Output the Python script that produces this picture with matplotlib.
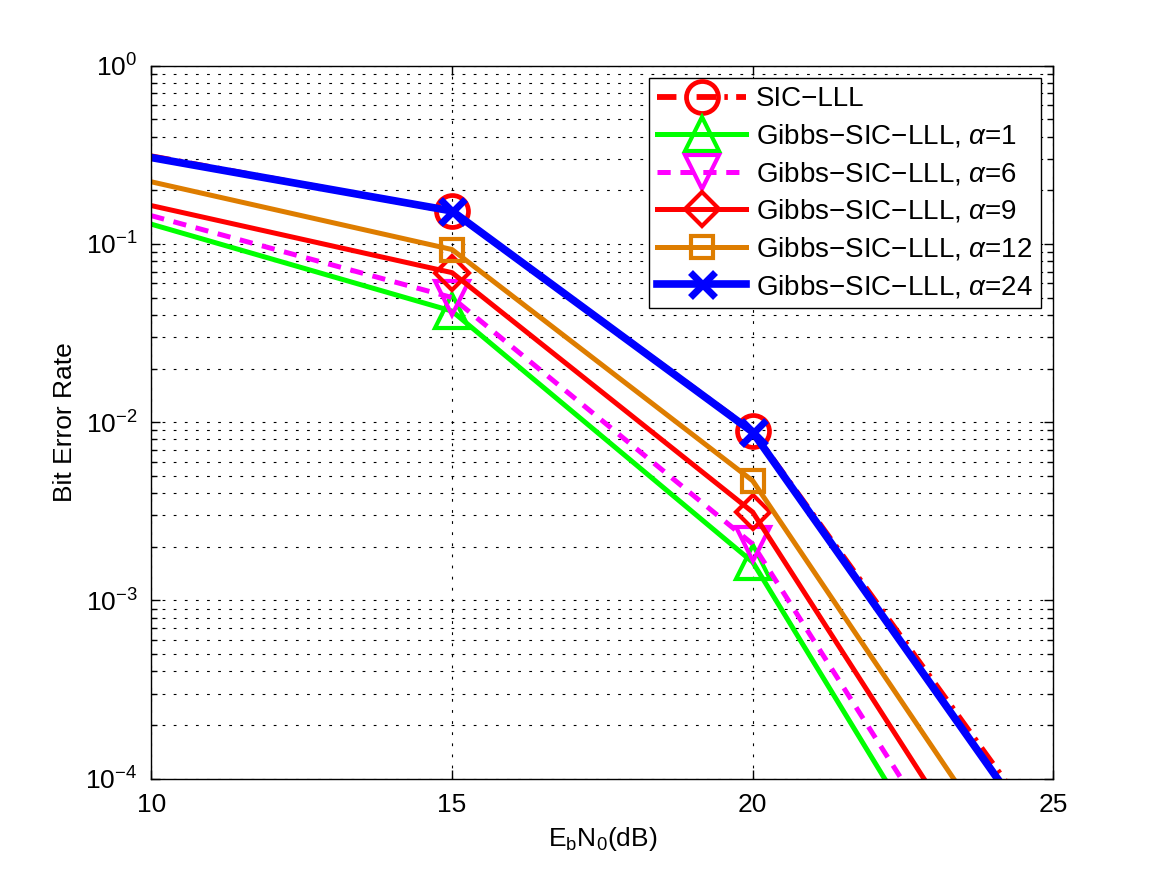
import matplotlib

matplotlib.use("Agg")
import matplotlib.pyplot as plt
from matplotlib.ticker import LogLocator, NullFormatter

plt.rcParams["font.family"] = ["Liberation Sans", "DejaVu Sans"]
plt.rcParams["mathtext.fontset"] = "custom"
plt.rcParams["mathtext.rm"] = "Liberation Sans"
plt.rcParams["mathtext.it"] = "Liberation Sans:italic"
plt.rcParams["mathtext.default"] = "regular"
plt.rcParams["lines.scale_dashes"] = False
plt.rcParams["axes.unicode_minus"] = True

# Eb/N0 sample points (dB)
snr_db = [10, 15, 20, 25]

# bit error rates
ber_sic_lll = [0.31, 0.152, 0.0089, 4.1e-5]
ber_alpha_1 = [0.129, 0.042, 0.00164, 2.8e-6]
ber_alpha_6 = [0.144, 0.050, 0.00207, 4.5e-6]
ber_alpha_9 = [0.164, 0.069, 0.00313, 7.4e-6]
ber_alpha_12 = [0.223, 0.093, 0.00469, 1.48e-5]
ber_alpha_24 = [0.305, 0.153, 0.0088, 3.6e-5]

labels = [
    "SIC−LLL",
    r"Gibbs−SIC−LLL, $\mathit{\alpha}$=1",
    r"Gibbs−SIC−LLL, $\mathit{\alpha}$=6",
    r"Gibbs−SIC−LLL, $\mathit{\alpha}$=9",
    r"Gibbs−SIC−LLL, $\mathit{\alpha}$=12",
    r"Gibbs−SIC−LLL, $\mathit{\alpha}$=24",
]

FS = 19
ORANGE = (0.87, 0.49, 0.0)

fig = plt.figure(figsize=(11.64, 8.75), dpi=100)
ax = fig.add_axes([0.13, 0.11, 0.775, 0.815])

marks = [1, 2]
ax.plot(snr_db, ber_sic_lll, color="red", lw=4.2, dashes=(14, 6, 2.5, 6),
        marker="o", ms=23, mew=3.4, mfc="none", markevery=marks, label=labels[0])
ax.plot(snr_db, ber_alpha_1, color=(0, 1, 0), lw=3.6, marker="^", ms=24, mew=3,
        mfc="none", markevery=marks, label=labels[1])
ax.plot(snr_db, ber_alpha_6, color=(1, 0, 1), lw=3.6, dashes=(9.5, 7),
        marker="v", ms=24, mew=3, mfc="none", markevery=marks, label=labels[2])
ax.plot(snr_db, ber_alpha_9, color="red", lw=3.6, marker="D", ms=17, mew=3,
        mfc="none", markevery=marks, label=labels[3])
ax.plot(snr_db, ber_alpha_12, color=ORANGE, lw=3.6, marker="s", ms=16, mew=3,
        mfc="none", markevery=marks, label=labels[4])
ax.plot(snr_db, ber_alpha_24, color="blue", lw=5.5, marker="x", ms=18, mew=5,
        markevery=marks, label=labels[5])

ax.set_yscale("log")
ax.set_xlim(10, 25)
ax.set_ylim(1e-4, 1)
ax.set_xticks([10, 15, 20, 25])
ax.yaxis.set_major_locator(LogLocator(base=10, numticks=10))
ax.yaxis.set_minor_locator(LogLocator(base=10, subs=range(2, 10), numticks=50))
ax.yaxis.set_minor_formatter(NullFormatter())

grid_style = dict(color="black", lw=0.8, linestyle=(0, (2, 6)))
ax.grid(True, which="major", **grid_style)
ax.grid(True, which="minor", axis="y", **grid_style)

ax.tick_params(which="both", direction="in", top=True, right=True, labelsize=FS,
               width=1.0, colors="black")
ax.tick_params(which="major", length=6.5, pad=10)
ax.tick_params(which="minor", length=4.3)
for spine in ax.spines.values():
    spine.set_linewidth(1.0)

ax.set_xlabel(r"$E_bN_0$(dB)", fontsize=FS, labelpad=6)
ax.set_ylabel("Bit Error Rate", fontsize=FS, labelpad=6)

leg = ax.legend(loc="upper right", bbox_to_anchor=(1041 / 1164, 1 - 78 / 875),
                bbox_transform=fig.transFigure, borderaxespad=0, fontsize=20,
                fancybox=False, framealpha=1, edgecolor="black",
                handlelength=3.2, handletextpad=0.35, labelspacing=0.38,
                borderpad=0.3)
leg.get_frame().set_linewidth(1.0)

fig.savefig("out.png", dpi=100, facecolor="white")
